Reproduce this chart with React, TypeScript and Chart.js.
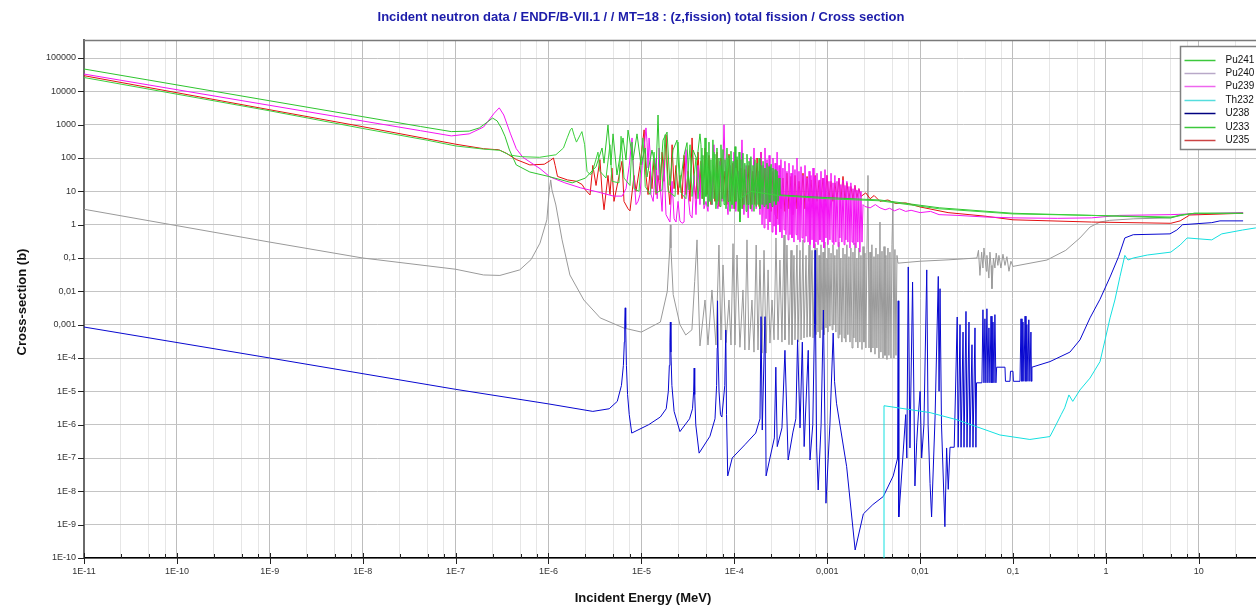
import React, { useEffect, useRef } from 'react';
import { Chart, registerables } from 'chart.js';

Chart.register(...registerables);

const titleText = 'Incident neutron data / ENDF/B-VII.1 / / MT=18 : (z,fission) total fission / Cross section';
const xAxisTitle = 'Incident Energy (MeV)';
const yAxisTitle = 'Cross-section (b)';

const seriesNames = ['Pu241', 'Pu240', 'Pu239', 'Th232', 'U238', 'U233', 'U235'];

const xMajorValues = [1e-11, 1e-10, 1e-9, 1e-8, 1e-7, 1e-6, 1e-5, 1e-4, 1e-3, 1e-2, 1e-1, 1, 10];
const xMajorLabels = ['1E-11', '1E-10', '1E-9', '1E-8', '1E-7', '1E-6', '1E-5', '1E-4', '0,001', '0,01', '0,1', '1', '10'];
const xMinorFactors = [2.5, 5, 7.5];
const yTickValues = [1e-10, 1e-9, 1e-8, 1e-7, 1e-6, 1e-5, 1e-4, 1e-3, 1e-2, 1e-1, 1, 10, 100, 1000, 10000, 100000];
const yTickLabels = ['1E-10', '1E-9', '1E-8', '1E-7', '1E-6', '1E-5', '1E-4', '0,001', '0,01', '0,1', '1', '10', '100', '1000', '10000', '100000'];
const xMin = 1e-11;
const xMax = 41.3;
const yMin = 1e-10;
const yMax = 3.47e5;

// [energy (MeV), cross section (b)]
const pu241Data: number[][] = [
  [1e-11, 46800], [1e-9, 5200], [1e-8, 1740], [4.2e-8, 880], [9e-8, 620], [1.4e-7, 640], [1.8e-7, 800], [2.2e-7, 1200],
  [2.5e-7, 1580], [2.8e-7, 1300], [3.1e-7, 800], [3.4e-7, 450], [3.8e-7, 174], [4.5e-7, 62], [6.3e-7, 38], [1e-6, 28],
  [1.8e-6, 18], [2.5e-6, 25], [3.25e-6, 55], [3.77e-6, 200], [3.96e-6, 70], [4.37e-6, 980], [4.7e-6, 62], [4.95e-6, 530],
  [5.46e-6, 31], [6.34e-6, 400], [6.83e-6, 87], [7.18e-6, 690], [8.13e-6, 87], [8.97e-6, 530], [9.9e-6, 62], [1.1e-5, 200],
  [1.15e-5, 27], [1.3e-5, 174], [1.44e-5, 44], [1.51e-5, 1950], [1.59e-5, 22], [1.71e-5, 345], [1.89e-5, 600], [2.03e-5, 15],
  [2.19e-5, 174], [2.42e-5, 345], [2.6e-5, 13], [2.88e-5, 123], [3.1e-5, 290], [3.26e-5, 11], [3.6e-5, 174], [3.97e-5, 87],
  [4.27e-5, 530],
  [4.38e-5, 250], [4.49e-5, 6], [4.6e-5, 120], [4.72e-5, 4], [4.84e-5, 400], [4.96e-5, 7], [5.08e-5, 150], [5.21e-5, 3.5],
  [5.34e-5, 300], [5.47e-5, 5], [5.61e-5, 90], [5.75e-5, 4], [5.89e-5, 350], [6.04e-5, 6], [6.19e-5, 130], [6.35e-5, 3],
  [6.51e-5, 200], [6.67e-5, 5], [6.84e-5, 100], [7.02e-5, 3.5], [7.19e-5, 250], [7.37e-5, 6], [7.56e-5, 180], [7.75e-5, 4],
  [7.94e-5, 90], [8.14e-5, 3], [8.34e-5, 200], [8.56e-5, 5], [8.77e-5, 120], [9.0e-5, 2.5], [9.22e-5, 160], [9.45e-5, 4],
  [9.69e-5, 80], [9.93e-5, 3], [1.018e-4, 220], [1.04e-4, 5], [1.07e-4, 110], [1.1e-4, 2.5], [1.125e-4, 150], [1.15e-4, 1.2],
  [1.18e-4, 90], [1.21e-4, 3], [1.24e-4, 140], [1.27e-4, 4], [1.3e-4, 70], [1.34e-4, 2.5], [1.37e-4, 130], [1.41e-4, 4],
  [1.44e-4, 80], [1.48e-4, 3], [1.51e-4, 110], [1.55e-4, 4], [1.59e-4, 60], [1.63e-4, 2.5], [1.67e-4, 90], [1.72e-4, 3.5],
  [1.76e-4, 70], [1.8e-4, 4], [1.85e-4, 100], [1.89e-4, 3], [1.94e-4, 60], [1.99e-4, 4], [2.04e-4, 80], [2.09e-4, 3.5],
  [2.14e-4, 50], [2.2e-4, 4], [2.25e-4, 70], [2.31e-4, 3], [2.37e-4, 55], [2.42e-4, 4.5], [2.49e-4, 65], [2.55e-4, 3.5],
  [2.61e-4, 50], [2.68e-4, 5], [2.75e-4, 45], [2.81e-4, 4], [2.89e-4, 40], [2.96e-4, 5], [3.03e-4, 25], [3.1e-4, 7.8],
  [6e-4, 7], [1e-3, 6.5], [3.7e-3, 5.5], [0.0163, 3.2], [0.1, 2.2], [0.7, 1.9], [5, 1.6], [6.3, 1.95], [9, 2.2], [30, 2.2],
];

const pu240Data: number[][] = [
  [1e-11, 2.9], [1e-9, 0.3], [1e-8, 0.1], [1e-7, 0.046], [2e-7, 0.031], [3e-7, 0.03], [4.9e-7, 0.044], [6.5e-7, 0.09],
  [8.1e-7, 0.28], [9.6e-7, 1.4], [1.02e-6, 11], [1.056e-6, 22], [1.09e-6, 11], [1.2e-6, 3.9], [1.4e-6, 0.35], [1.7e-6, 0.031],
  [2.4e-6, 5.5e-3], [3.6e-6, 1.6e-3], [6.5e-6, 7.9e-4], [1e-5, 6e-4], [1.6e-5, 1.2e-3], [1.9e-5, 0.01], [2.02e-5, 0.2],
  [2.05e-5, 1.0], [2.08e-5, 0.2], [2.2e-5, 0.008], [2.6e-5, 1e-3], [3.0e-5, 4.9e-4], [3.5e-5, 7e-4], [3.75e-5, 0.02],
  [3.97e-5, 0.35], [4.1e-5, 0.01], [4.27e-5, 2.3e-4], [4.84e-5, 5.5e-3], [5.21e-5, 2.45e-4], [5.75e-5, 0.011], [6.35e-5, 2.45e-4],
  [6.84e-5, 0.245], [7.19e-5, 3.46e-4], [7.56e-5, 0.062], [8.14e-5, 2.9e-4], [8.77e-5, 5.5e-3], [9.22e-5, 2.45e-4],
  [9.69e-5, 0.27], [1.018e-4, 2.45e-4], [1.07e-4, 0.123], [1.15e-4, 2.1e-4], [1.24e-4, 0.011], [1.3e-4, 1.74e-4],
  [1.37e-4, 0.35], [1.44e-4, 1.74e-4], [1.55e-4, 5.5e-3], [1.63e-4, 1.5e-4], [1.72e-4, 0.245], [1.8e-4, 1.74e-4],
  [1.89e-4, 0.087], [1.99e-4, 1.4e-4], [2.09e-4, 0.17], [2.2e-4, 1.4e-4], [2.31e-4, 0.044], [2.42e-4, 2.8e-4],
  [2.55e-4, 5.5e-3], [2.68e-4, 3.5e-4], [2.81e-4, 0.4], [2.96e-4, 3.5e-4], [3.1e-4, 0.087], [3.26e-4, 3e-4], [3.43e-4, 0.49],
  [3.51e-4, 3.5e-4], [3.69e-4, 0.245], [3.88e-4, 2.5e-4], [4.08e-4, 0.17], [4.18e-4, 2.5e-4], [4.39e-4, 0.12], [4.5e-4, 3.5e-4],
  [4.73e-4, 0.245], [4.85e-4, 3e-4], [5.1e-4, 0.17], [5.23e-4, 3.5e-4], [5.49e-4, 0.35], [5.63e-4, 4e-4], [5.92e-4, 0.12],
  [6.07e-4, 4.2e-4], [6.38e-4, 0.245], [6.53e-4, 4.4e-4], [6.87e-4, 0.17], [7.04e-4, 4e-4], [7.4e-4, 0.27],
  [7.58e-4, 5e-4], [7.77e-4, 0.2], [7.97e-4, 6e-4], [8.17e-4, 0.12], [8.36e-4, 4e-4], [8.58e-4, 0.25], [8.8e-4, 7e-4],
  [9.02e-4, 0.15], [9.24e-4, 5e-4], [9.47e-4, 0.3], [9.71e-4, 8e-4], [9.95e-4, 0.1], [1.02e-3, 6e-4], [1.045e-3, 0.2],
  [1.07e-3, 9e-4], [1.1e-3, 0.14], [1.13e-3, 7e-4], [1.155e-3, 0.25], [1.18e-3, 1e-3], [1.21e-3, 0.12], [1.24e-3, 6e-4],
  [1.275e-3, 0.18], [1.31e-3, 4e-4], [1.34e-3, 0.3], [1.37e-3, 5e-4], [1.405e-3, 0.1], [1.44e-3, 3e-4], [1.48e-3, 0.2],
  [1.52e-3, 4e-4], [1.555e-3, 0.13], [1.59e-3, 3e-4], [1.63e-3, 0.25], [1.67e-3, 5e-4], [1.715e-3, 0.11], [1.76e-3, 3e-4],
  [1.8e-3, 0.2], [1.85e-3, 2e-4], [1.895e-3, 0.15], [1.94e-3, 4e-4], [1.99e-3, 0.28], [2.04e-3, 3e-4], [2.09e-3, 0.1],
  [2.14e-3, 2e-4], [2.195e-3, 0.2], [2.25e-3, 3e-4], [2.31e-3, 0.12], [2.37e-3, 1.8e-4], [2.43e-3, 0.22], [2.49e-3, 3e-4],
  [2.55e-3, 0.14], [2.61e-3, 2e-4], [2.68e-3, 0.18], [2.75e-3, 30], [2.82e-3, 2e-4], [2.89e-3, 0.15], [2.96e-3, 1.5e-4],
  [3.03e-3, 0.25], [3.11e-3, 2e-4], [3.19e-3, 0.11], [3.27e-3, 1.3e-4], [3.35e-3, 0.2], [3.43e-3, 2e-4], [3.52e-3, 0.13],
  [3.61e-3, 1e-4], [3.7e-3, 1.2], [3.79e-3, 1.5e-4], [3.89e-3, 0.16], [3.99e-3, 1e-4], [4.09e-3, 0.22], [4.19e-3, 1.2e-4],
  [4.29e-3, 0.12], [4.4e-3, 9e-5], [4.51e-3, 0.2], [4.62e-3, 1.2e-4], [4.74e-3, 0.15], [4.86e-3, 1e-4], [4.98e-3, 0.25],
  [5.1e-3, 5], [5.23e-3, 1e-4], [5.36e-3, 0.18], [5.5e-3, 1.2e-4], [5.64e-3, 0.12], [5.78e-3, 0.07],
  [0.01, 0.08], [0.02, 0.088], [0.0409, 0.1], [0.0425, 0.17], [0.0441, 0.03], [0.046, 0.15], [0.0475, 0.05], [0.0487, 0.2],
  [0.0517, 0.04], [0.0524, 0.12], [0.055, 0.025], [0.0565, 0.15], [0.058, 0.06], [0.0594, 0.012], [0.0616, 0.1],
  [0.0639, 0.05], [0.066, 0.14], [0.0688, 0.06], [0.0706, 0.12], [0.0742, 0.05], [0.078, 0.13], [0.082, 0.06], [0.086, 0.11],
  [0.0905, 0.04], [0.095, 0.08], [0.1, 0.056], [0.232, 0.087], [0.37, 0.17], [0.526, 0.4], [0.675, 0.85], [0.865, 1.2],
  [1.1, 1.35], [2, 1.5], [5, 1.6], [7, 2.0], [10, 2.1], [30, 2.2],
];

const pu239Data: number[][] = [
  [1e-11, 33000], [1e-9, 3800], [1e-8, 1290], [4.2e-8, 660], [9e-8, 460], [1.4e-7, 530], [2e-7, 850], [2.6e-7, 2200],
  [2.95e-7, 3200], [3.3e-7, 1950], [3.9e-7, 530], [4.5e-7, 190], [5.3e-7, 105], [8.1e-7, 48], [1.04e-6, 27], [1.5e-6, 18],
  [2.2e-6, 12.8], [3.6e-6, 9.2], [5e-6, 7.2], [6.2e-6, 7.2], [6.83e-6, 12], [7.4e-6, 60], [7.93e-6, 400], [8.3e-6, 30],
  [8.75e-6, 4], [9.2e-6, 5], [9.66e-6, 8], [1.02e-5, 60], [1.07e-5, 200], [1.12e-5, 800], [1.15e-5, 300], [1.18e-5, 50],
  [1.21e-5, 400], [1.24e-5, 150], [1.27e-5, 8], [1.34e-5, 5], [1.44e-5, 100], [1.48e-5, 6], [1.55e-5, 200], [1.59e-5, 15],
  [1.67e-5, 2.5], [1.75e-5, 90], [1.84e-5, 2], [1.94e-5, 1.5], [2.03e-5, 1.2], [2.14e-5, 20], [2.25e-5, 1.5], [2.36e-5, 1.2],
  [2.48e-5, 5], [2.6e-5, 1.3], [2.74e-5, 1.1], [2.88e-5, 1.2], [3.02e-5, 180], [3.18e-5, 8], [3.34e-5, 2], [3.51e-5, 1.6],
  [3.69e-5, 30], [3.87e-5, 2], [4.07e-5, 60], [4.27e-5, 4], [4.49e-5, 120], [4.72e-5, 3], [4.96e-5, 5], [5.21e-5, 2.5],
  [5.47e-5, 40], [5.75e-5, 4], [6.04e-5, 250], [6.35e-5, 6], [6.67e-5, 3], [7.02e-5, 80], [7.37e-5, 5], [7.75e-5, 1000],
  [8.14e-5, 8], [8.56e-5, 2], [9e-5, 60], [9.45e-5, 3], [9.93e-5, 150], [1.04e-4, 2.5], [1.1e-4, 40], [1.15e-4, 1.5],
  [1.21e-4, 350], [1.27e-4, 2], [1.34e-4, 60], [1.41e-4, 1.6], [1.48e-4, 100], [1.55e-4, 2.5], [1.63e-4, 200], [1.72e-4, 3],
  [1.8e-4, 40], [1.89e-4, 2],
  [1.94e-4, 150], [1.99e-4, 1.0], [2.04e-4, 60], [2.09e-4, 0.8], [2.14e-4, 200], [2.2e-4, 1.5], [2.25e-4, 90], [2.31e-4, 0.7],
  [2.37e-4, 120], [2.42e-4, 1.2], [2.49e-4, 50], [2.55e-4, 0.6], [2.61e-4, 100], [2.68e-4, 0.9], [2.75e-4, 70], [2.81e-4, 0.5],
  [2.89e-4, 150], [2.96e-4, 1.0], [3.03e-4, 60], [3.1e-4, 0.6], [3.18e-4, 90], [3.26e-4, 0.4], [3.34e-4, 50], [3.43e-4, 0.7],
  [3.51e-4, 80], [3.6e-4, 0.5], [3.69e-4, 40], [3.79e-4, 0.35], [3.88e-4, 70], [3.98e-4, 0.5], [4.08e-4, 35], [4.18e-4, 0.4],
  [4.28e-4, 60], [4.39e-4, 0.3], [4.5e-4, 45], [4.62e-4, 0.5], [4.73e-4, 100], [4.85e-4, 0.35], [4.97e-4, 40], [5.1e-4, 0.3],
  [5.23e-4, 55], [5.36e-4, 0.4], [5.49e-4, 30], [5.63e-4, 0.3], [5.77e-4, 60], [5.92e-4, 0.45], [6.07e-4, 25], [6.22e-4, 0.3],
  [6.38e-4, 40], [6.53e-4, 0.25], [6.7e-4, 30], [6.87e-4, 0.35], [7.04e-4, 50], [7.21e-4, 0.2], [7.4e-4, 28], [7.58e-4, 0.3],
  [7.77e-4, 35], [7.97e-4, 0.25], [8.17e-4, 22], [8.36e-4, 0.35], [8.58e-4, 40], [8.8e-4, 0.3], [9.02e-4, 25], [9.24e-4, 0.2],
  [9.47e-4, 45], [9.71e-4, 0.4], [9.95e-4, 30], [1.02e-3, 0.25], [1.045e-3, 20], [1.07e-3, 0.35], [1.1e-3, 35], [1.13e-3, 0.3],
  [1.155e-3, 18], [1.18e-3, 0.25], [1.21e-3, 30], [1.24e-3, 0.3], [1.275e-3, 20], [1.31e-3, 0.22], [1.34e-3, 25], [1.37e-3, 0.4],
  [1.405e-3, 16], [1.44e-3, 0.3], [1.48e-3, 22], [1.52e-3, 0.25], [1.555e-3, 15], [1.59e-3, 0.35], [1.63e-3, 20], [1.67e-3, 0.3],
  [1.715e-3, 14], [1.76e-3, 0.2], [1.8e-3, 18], [1.85e-3, 0.3], [1.895e-3, 12], [1.94e-3, 0.25], [1.99e-3, 15], [2.04e-3, 0.2],
  [2.09e-3, 11], [2.14e-3, 0.3], [2.195e-3, 12], [2.25e-3, 0.15], [2.31e-3, 10], [2.37e-3, 0.3], [2.43e-3, 4],
  [2.55e-3, 3.5], [2.9e-3, 3.2], [3.3e-3, 4], [3.7e-3, 3.2], [4.2e-3, 2.8], [4.7e-3, 3.1], [5.3e-3, 2.6], [6e-3, 3],
  [7e-3, 2.5], [8e-3, 2.7], [1e-2, 2.3], [1.3e-2, 2.5], [1.6e-2, 2.0], [2.5e-2, 1.9], [0.05, 1.7], [0.1, 1.6], [0.3, 1.55],
  [0.7, 1.6], [1.4, 1.9], [5, 2.0], [8, 2.1], [30, 2.3],
];

const th232Data: number[][] = [
  [4.09e-3, 1e-12], [4.09e-3, 3.7e-6], [1.28e-2, 2.3e-6], [2.5e-2, 1.4e-6], [4.05e-2, 8.7e-7], [7.24e-2, 4.9e-7],
  [0.152, 3.6e-7], [0.25, 4.4e-7], [0.29, 9.8e-7], [0.33, 2e-6], [0.36, 3.2e-6], [0.4, 7.8e-6], [0.44, 5e-6],
  [0.526, 1.1e-5], [0.675, 2.5e-5], [0.865, 7.8e-5], [0.98, 3.5e-4], [1.11, 1.6e-3], [1.25, 5.5e-3], [1.42, 0.028],
  [1.6, 0.12], [1.73, 0.087], [1.97, 0.1], [2.8, 0.123], [5.0, 0.15], [6.3, 0.245], [7.5, 0.4], [13.8, 0.35], [17.7, 0.53],
  [29.5, 0.69], [41, 0.8], [60, 0.9],
];

const u238Data: number[][] = [
  [1e-11, 8.5e-4], [1e-9, 1.0e-4], [1e-7, 1.15e-5], [1e-6, 4.2e-6], [3e-6, 2.5e-6], [4.5e-6, 3e-6], [5.5e-6, 5e-6],
  [6.1e-6, 1.5e-5], [6.4e-6, 6e-5], [6.55e-6, 3e-4], [6.62e-6, 1.2e-3], [6.7e-6, 3.2e-3], [6.78e-6, 8e-4], [6.9e-6, 6e-5],
  [7.1e-6, 8e-6], [7.4e-6, 2e-6], [7.87e-6, 5.6e-7], [1.2e-5, 1.0e-6], [1.6e-5, 1.7e-6], [1.85e-5, 3e-6], [1.95e-5, 1e-5],
  [2.0e-5, 6e-5], [2.03e-5, 3e-4], [2.05e-5, 1.2e-3], [2.08e-5, 1.5e-4], [2.13e-5, 1.5e-5], [2.25e-5, 2.5e-6],
  [2.6e-5, 6.2e-7], [3.3e-5, 1.5e-6], [3.55e-5, 3e-6], [3.65e-5, 1e-5], [3.7e-5, 5e-5], [3.75e-5, 8e-6], [3.85e-5, 1e-6],
  [4.18e-5, 1.4e-7], [5.47e-5, 4.5e-7], [6.2e-5, 1.5e-6], [6.45e-5, 1.5e-5], [6.55e-5, 2e-4], [6.6e-5, 5.2e-3],
  [6.68e-5, 2e-4], [6.85e-5, 1e-5], [7.1e-5, 2e-6], [7.35e-5, 1.7e-6], [7.9e-5, 1.5e-5], [8.1e-5, 6.9e-4], [8.25e-5, 2e-6],
  [8.5e-5, 2.9e-8], [9.5e-5, 1.0e-7], [1.3e-4, 2.5e-7], [1.7e-4, 5.6e-7], [1.89e-4, 1.5e-6], [1.94e-4, 1.74e-3],
  [2.0e-4, 6.9e-7], [2.14e-4, 1.74e-3], [2.2e-4, 2.9e-8], [2.42e-4, 1.0e-7], [2.7e-4, 4e-7], [2.8e-4, 5.3e-5],
  [2.9e-4, 2.2e-7], [3.26e-4, 8e-7], [3.51e-4, 1.7e-4], [3.8e-4, 8.7e-8], [4.28e-4, 6e-7], [4.6e-4, 1.5e-6],
  [4.8e-4, 3.5e-4], [5.1e-4, 8e-7], [5.4e-4, 3e-4], [5.65e-4, 2.2e-7], [6.25e-4, 1.7e-4], [6.53e-4, 8.7e-8], [7.0e-4, 1e-6],
  [7.3e-4, 1e-3], [7.4e-4, 0.17], [7.5e-4, 1e-3], [7.7e-4, 2e-7], [8.0e-4, 1.1e-8], [8.6e-4, 1e-6], [9.1e-4, 2.75e-3],
  [9.7e-4, 4.4e-9], [1.07e-3, 1e-6], [1.16e-3, 5.6e-4], [1.2e-3, 2e-5], [1.26e-3, 4.4e-6], [1.62e-3, 5.5e-8],
  [2.0e-3, 1.74e-10], [2.45e-3, 2.1e-9], [3.1e-3, 4e-9], [4.02e-3, 7e-9], [5.14e-3, 2.9e-8], [5.73e-3, 1.0e-7],
  [5.81e-3, 5.2e-3], [5.9e-3, 1.7e-9], [6.6e-3, 1.74e-7], [7.0e-3, 2e-6], [7.2e-3, 1e-7], [7.46e-3, 0.054], [7.78e-3, 2e-7],
  [8.3e-3, 0.019], [8.8e-3, 1.45e-8], [9.2e-3, 3e-7], [9.55e-3, 1.7e-6], [1.0e-2, 1e-5], [1.04e-2, 1.0e-7],
  [1.1e-2, 1e-6], [1.18e-2, 0.044], [1.22e-2, 1e-6], [1.28e-2, 1.74e-8], [1.33e-2, 1.7e-9], [1.45e-2, 1.7e-6],
  [1.57e-2, 0.028], [1.6e-2, 1e-5], [1.64e-2, 0.012], [1.7e-2, 1e-6], [1.85e-2, 8.7e-10], [1.93e-2, 2e-7],
  [2.01e-2, 1.15e-8], [2.1e-2, 2.1e-7], [2.33e-2, 2.1e-7], [2.51e-2, 1.7e-3], [2.57e-2, 2.1e-7], [2.69e-2, 1e-3],
  [2.76e-2, 2.1e-7], [2.9e-2, 6e-4], [2.97e-2, 2.1e-7], [3.12e-2, 2.5e-3], [3.2e-2, 2.1e-7], [3.36e-2, 1.2e-3],
  [3.44e-2, 2.1e-7], [3.62e-2, 2.5e-4], [3.71e-2, 2.1e-7], [3.9e-2, 8e-4], [3.99e-2, 2.1e-7], [4.05e-2, 1.8e-5],
  [4.63e-2, 1.8e-5], [4.75e-2, 2.8e-3], [4.87e-2, 1.8e-5], [4.99e-2, 1.5e-3], [5.11e-2, 1.8e-5], [5.24e-2, 3e-3],
  [5.37e-2, 1.8e-5], [5.51e-2, 8e-4], [5.65e-2, 1.8e-5], [5.8e-2, 1.8e-3], [5.94e-2, 1.8e-5], [6.09e-2, 1.2e-3],
  [6.24e-2, 1.8e-5], [6.39e-2, 2e-3], [6.55e-2, 1.8e-5], [6.67e-2, 5.3e-5], [8.2e-2, 5.3e-5], [8.3e-2, 2e-5],
  [9.28e-2, 2e-5], [9.4e-2, 4e-5], [0.1, 4e-5], [0.101, 2e-5], [0.119, 2e-5], [0.122, 1.5e-3], [0.125, 2e-5],
  [0.128, 1.2e-3], [0.131, 2e-5], [0.135, 1.8e-3], [0.138, 2e-5], [0.141, 1e-3], [0.145, 2e-5], [0.148, 1.4e-3],
  [0.152, 2e-5], [0.156, 6e-4], [0.158, 2e-5], [0.16, 5.3e-5], [0.25, 7.8e-5], [0.41, 1.5e-4], [0.526, 3.5e-4],
  [0.675, 1.6e-3], [0.865, 5.8e-3], [1.11, 0.027], [1.37, 0.11], [1.6, 0.4], [1.97, 0.5], [4.9, 0.53], [5.8, 0.69],
  [6.7, 1.0], [13.8, 1.15], [16.9, 1.3], [30, 1.3],
];

const u233Data: number[][] = [
  [1e-11, 26000], [1e-9, 2600], [1e-8, 770], [5e-8, 340], [1e-7, 230], [2e-7, 185], [3e-7, 170], [3.8e-7, 123], [5e-7, 110],
  [8e-7, 105], [1.2e-6, 125], [1.45e-6, 200], [1.6e-6, 420], [1.72e-6, 700], [1.79e-6, 790], [1.9e-6, 450], [2.0e-6, 300],
  [2.2e-6, 500], [2.29e-6, 620], [2.45e-6, 250], [2.6e-6, 40], [2.8e-6, 32], [2.94e-6, 35], [3.41e-6, 150], [3.58e-6, 40],
  [4.16e-6, 25], [4.59e-6, 250], [4.82e-6, 20], [5.74e-6, 18], [6.04e-6, 450], [6.5e-6, 25], [7.54e-6, 15], [7.93e-6, 300],
  [8.33e-6, 12], [9.43e-6, 10], [1.04e-5, 400], [1.1e-5, 14], [1.24e-5, 8], [1.37e-5, 150], [1.44e-5, 9], [1.67e-5, 11],
  [1.8e-5, 500], [1.94e-5, 10], [2.3e-5, 7], [2.48e-5, 300], [2.67e-5, 9], [3.02e-5, 6], [3.34e-5, 250], [3.51e-5, 7],
  [3.87e-5, 100], [4.07e-5, 6], [4.49e-5, 200], [4.72e-5, 5], [5.08e-5, 90], [5.47e-5, 5], [6.04e-5, 150], [6.51e-5, 4],
  [7.02e-5, 60], [7.75e-5, 5], [8.56e-5, 100], [9.45e-5, 4], [1.04e-4, 50], [1.15e-4, 6], [1.5e-4, 10], [3e-4, 7.5],
  [1e-3, 6.0], [3.7e-3, 5.2], [0.016, 3.0], [0.1, 2.1], [0.7, 1.9], [5, 1.7], [9, 2.2], [30, 2.2],
];

const u235Data: number[][] = [
  [1e-11, 29500], [1e-9, 2800], [1e-8, 870], [1e-7, 260], [2e-7, 190], [2.6e-7, 180], [2.9e-7, 178], [3.5e-7, 140],
  [4.5e-7, 90], [6.3e-7, 62], [9e-7, 65], [1.05e-6, 85], [1.13e-6, 100], [1.18e-6, 60], [1.25e-6, 28], [1.6e-6, 22],
  [2.0e-6, 20], [2.3e-6, 16], [2.5e-6, 11], [2.8e-6, 7.8], [3.0e-6, 60], [3.25e-6, 15], [3.58e-6, 90], [3.77e-6, 10],
  [3.96e-6, 2.8], [4.37e-6, 30], [4.59e-6, 8], [4.82e-6, 50], [5.07e-6, 5], [5.6e-6, 20], [6.19e-6, 80], [6.5e-6, 5],
  [7.18e-6, 3], [7.54e-6, 2.6], [8.33e-6, 30], [8.75e-6, 10], [9.66e-6, 60], [1.07e-5, 700], [1.12e-5, 30], [1.18e-5, 8],
  [1.24e-5, 40], [1.3e-5, 12], [1.37e-5, 100], [1.44e-5, 8], [1.51e-5, 30], [1.59e-5, 10], [1.67e-5, 150], [1.75e-5, 20],
  [1.84e-5, 500], [1.94e-5, 15], [2.03e-5, 4], [2.14e-5, 250], [2.25e-5, 12], [2.36e-5, 60], [2.48e-5, 8], [2.6e-5, 30],
  [2.74e-5, 6], [2.88e-5, 120], [3.02e-5, 8], [3.18e-5, 40], [3.34e-5, 5], [3.51e-5, 400], [3.69e-5, 20], [3.87e-5, 6],
  [4.07e-5, 150], [4.27e-5, 10],
  [4.38e-5, 80], [4.6e-5, 6], [4.84e-5, 200], [5.08e-5, 8], [5.34e-5, 120], [5.61e-5, 4], [5.89e-5, 60], [6.19e-5, 5],
  [6.51e-5, 150], [6.84e-5, 3.5], [7.19e-5, 100], [7.56e-5, 6], [7.94e-5, 40], [8.34e-5, 4], [8.77e-5, 130], [9.22e-5, 5],
  [9.69e-5, 70], [1.018e-4, 3], [1.07e-4, 90], [1.125e-4, 2.5], [1.18e-4, 50], [1.24e-4, 3], [1.3e-4, 45], [1.37e-4, 4],
  [1.44e-4, 60], [1.51e-4, 3], [1.59e-4, 40], [1.67e-4, 4], [1.76e-4, 100], [1.85e-4, 3.5], [1.94e-4, 150], [2.04e-4, 4],
  [2.14e-4, 50], [2.25e-4, 3], [2.37e-4, 60], [2.49e-4, 2.5], [2.61e-4, 40], [2.75e-4, 2], [2.89e-4, 1.5], [3.03e-4, 30],
  [3.18e-4, 3], [3.34e-4, 25], [3.51e-4, 2.5], [3.69e-4, 35], [3.88e-4, 3], [4.08e-4, 28], [4.28e-4, 2], [4.5e-4, 30],
  [4.73e-4, 3], [4.97e-4, 20], [5.23e-4, 4], [5.49e-4, 35], [5.77e-4, 3], [6.07e-4, 28], [6.38e-4, 5], [6.7e-4, 22],
  [7.04e-4, 4], [7.4e-4, 30], [7.77e-4, 5], [8.17e-4, 20], [8.58e-4, 6], [9.02e-4, 25], [9.47e-4, 5], [9.95e-4, 30],
  [1.045e-3, 6], [1.1e-3, 20], [1.155e-3, 5], [1.21e-3, 18], [1.275e-3, 6], [1.34e-3, 25], [1.405e-3, 5.5], [1.48e-3, 28],
  [1.555e-3, 5.5], [1.63e-3, 18], [1.715e-3, 6], [1.8e-3, 14], [1.895e-3, 6], [1.99e-3, 15], [2.09e-3, 6.5], [2.195e-3, 12],
  [2.31e-3, 7], [2.6e-3, 9], [2.9e-3, 6], [3.2e-3, 7.5], [3.7e-3, 5], [4.5e-3, 5.5], [5.5e-3, 4.3], [7e-3, 4.5], [0.01, 3.4],
  [0.02, 2.3], [0.05, 1.8], [0.1, 1.4], [0.7, 1.2], [5, 1.1], [6.3, 1.3], [8, 1.95], [30, 2.2],
];

const seriesData = [pu241Data, pu240Data, pu239Data, th232Data, u238Data, u233Data, u235Data];
const lineColors = ['#2ec42e', '#9a9a9a', '#f414f4', '#14e0e0', '#0808d0', '#3cd03c', '#e41010'];
const legendColors = ['#3cc83c', '#b8a8c8', '#ee66ee', '#55dddd', '#000080', '#3cc83c', '#cc4444'];
const drawOrder = [2, 7, 3, 5, 6, 1, 4];

const FONT = "Arial, 'Liberation Sans', Helvetica, sans-serif";

const isDecade = (v: number | undefined) => {
  if (!v || v <= 0) return false;
  const l = Math.log10(v);
  return Math.abs(l - Math.round(l)) < 1e-6;
};

const xTickValues: number[] = [];
xMajorValues.forEach((m) => {
  xTickValues.push(m);
  xMinorFactors.forEach((f) => {
    if (m * f <= xMax) xTickValues.push(m * f);
  });
});

const xLabelFor = (v: number) => {
  const k = xMajorValues.findIndex((m) => Math.abs(Math.log10(m) - Math.log10(v)) < 1e-6);
  return k >= 0 ? xMajorLabels[k] : '';
};

const decorPlugin = {
  id: 'decor',
  afterDraw(chart: any) {
    const { ctx, chartArea: a, scales } = chart;
    const xs = scales.x;
    const ys = scales.y;
    ctx.save();
    ctx.strokeStyle = '#7a7a7a';
    ctx.lineWidth = 1.5;
    ctx.beginPath();
    ctx.moveTo(a.left, a.top + 0.5);
    ctx.lineTo(a.right, a.top + 0.5);
    ctx.stroke();
    ctx.strokeStyle = '#222';
    ctx.lineWidth = 1;
    ctx.beginPath();
    yTickValues.forEach((v) => {
      const y = Math.round(ys.getPixelForValue(v)) + 0.5;
      ctx.moveTo(a.left - 6, y);
      ctx.lineTo(a.left, y);
    });
    xTickValues.forEach((v) => {
      const x = Math.round(xs.getPixelForValue(v)) + 0.5;
      if (isDecade(v)) {
        ctx.moveTo(x, a.bottom - 5);
        ctx.lineTo(x, a.bottom + 6);
      } else {
        ctx.moveTo(x, a.bottom - 4);
        ctx.lineTo(x, a.bottom);
      }
    });
    ctx.stroke();

    ctx.fillStyle = '#1c1caa';
    ctx.font = `bold 13px ${FONT}`;
    ctx.textAlign = 'center';
    ctx.textBaseline = 'middle';
    ctx.fillText(titleText, 641, 17);

    ctx.fillStyle = '#111';
    ctx.font = `bold 13px ${FONT}`;
    ctx.fillText(xAxisTitle, 643, 598);
    ctx.save();
    ctx.translate(22, 302);
    ctx.rotate(-Math.PI / 2);
    ctx.fillText(yAxisTitle, 0, 0);
    ctx.restore();

    const lx = 1180.5;
    const ly = 46.5;
    ctx.fillStyle = '#ffffff';
    ctx.fillRect(lx, ly, 90, 103);
    ctx.strokeStyle = '#808080';
    ctx.lineWidth = 1.5;
    ctx.strokeRect(lx, ly, 90, 103);
    ctx.font = `10px ${FONT}`;
    ctx.textAlign = 'left';
    ctx.textBaseline = 'middle';
    seriesNames.forEach((name, i) => {
      const y = Math.round(59.5 + i * 13.4) + 0.5;
      ctx.strokeStyle = legendColors[i];
      ctx.lineWidth = 1.5;
      ctx.beginPath();
      ctx.moveTo(lx + 4, y);
      ctx.lineTo(lx + 35, y);
      ctx.stroke();
      ctx.fillStyle = '#111';
      ctx.fillText(name, lx + 45, y);
    });
    ctx.restore();
  },
};

export default function App() {
  const ref = useRef<HTMLCanvasElement>(null);
  useEffect(() => {
    document.body.style.margin = '0';
    const canvas = ref.current;
    if (!canvas) return;
    const chart = new Chart(canvas, {
      type: 'line',
      data: {
        datasets: seriesNames.map((name, i) => ({
          label: name,
          data: seriesData[i].map(([x, y]) => ({ x, y })),
          borderColor: lineColors[i],
          backgroundColor: lineColors[i],
          borderWidth: 1,
          pointRadius: 0,
          pointHoverRadius: 0,
          tension: 0,
          fill: false,
          order: drawOrder[i],
        })),
      },
      options: {
        responsive: false,
        animation: false,
        devicePixelRatio: 1,
        events: [],
        layout: { padding: { top: 40, left: 0, right: 0, bottom: 0 } },
        plugins: {
          legend: { display: false },
          title: { display: false },
          tooltip: { enabled: false },
        },
        scales: {
          x: {
            type: 'logarithmic',
            position: 'bottom',
            min: xMin,
            max: xMax,
            afterFit: (s: any) => {
              s.height = 51;
            },
            afterBuildTicks: (s: any) => {
              s.ticks = xTickValues.map((v) => ({ value: v }));
            },
            grid: {
              color: (c: any) => (isDecade(c.tick && c.tick.value) ? '#bdbdbd' : '#e6e6e6'),
              drawTicks: false,
              lineWidth: 1,
            },
            border: { display: true, color: '#000', width: 1.5 },
            ticks: {
              autoSkip: false,
              maxRotation: 0,
              minRotation: 0,
              padding: 8,
              color: '#333',
              font: { family: FONT, size: 9 },
              callback: (v: any) => xLabelFor(Number(v)),
            },
          },
          y: {
            type: 'logarithmic',
            position: 'left',
            min: yMin,
            max: yMax,
            afterFit: (s: any) => {
              s.width = 84;
            },
            afterBuildTicks: (s: any) => {
              s.ticks = yTickValues.map((v) => ({ value: v }));
            },
            grid: { color: '#c4c4c4', drawTicks: false, lineWidth: 1 },
            border: { display: true, color: '#6a6a6a', width: 2 },
            ticks: {
              autoSkip: false,
              padding: 8,
              color: '#333',
              font: { family: FONT, size: 9 },
              callback: (_v: any, i: number) => yTickLabels[i],
            },
          },
        },
      },
      plugins: [decorPlugin],
    } as any);
    return () => chart.destroy();
  }, []);
  return (
    <div style={{ position: 'absolute', left: 0, top: 0, width: 1256, height: 609 }}>
      <canvas ref={ref} width={1256} height={609} style={{ display: 'block' }} />
    </div>
  );
}
